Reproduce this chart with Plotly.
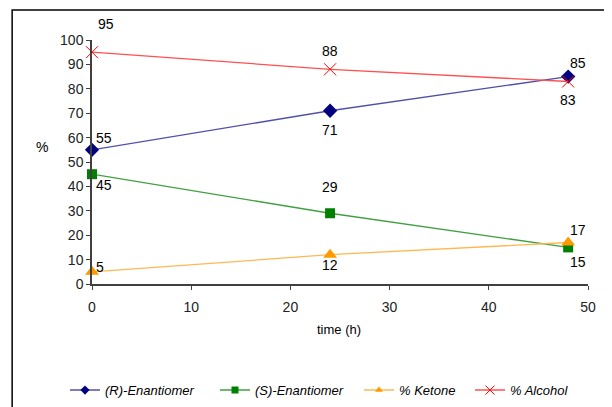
import plotly.graph_objects as go

time_h = [0, 24, 48]
r_enant = [55, 71, 85]
s_enant = [45, 29, 15]
ketone = [5, 12, 17]
alcohol = [95, 88, 83]

series = [
    ("<i>(R)-Enantiomer</i>", r_enant, "#000080", "#5050A8", "diamond", 11, 0),
    ("<i>(S)-Enantiomer</i>", s_enant, "#008000", "#40A040", "square", 10, 0),
    ("<i>% Ketone</i>", ketone, "#FF9900", "#FFB850", "triangle-up", 12, 0),
    ("<i>% Alcohol</i>", alcohol, "#FF0000", "#FF5050", "x-thin", 12, 1),
]

# label offsets (x px, y px) per point
offsets = {
    0: [(12, 12), (0, -19), (10, 14)],
    1: [(12, -11), (0, 26), (10, -15)],
    2: [(8, 5), (0, -10), (10, 13)],
    3: [(14, 28), (0, 18), (0, -19)],
}

L, W = 84, 496
legend_px = [72, 222, 366, 477]
legend_names = ["legend", "legend2", "legend3", "legend4"]

fig = go.Figure()
ann = []
for i, (name, vals, mc, lc, sym, size, lw) in enumerate(series):
    fig.add_trace(go.Scatter(
        x=time_h, y=vals, name=name, mode="lines+markers",
        line=dict(color=lc, width=1.3),
        marker=dict(symbol=sym, size=size, color=mc,
                    line=dict(color=mc, width=lw)),
        cliponaxis=False, showlegend=False,
    ))
    # legend entry
    fig.add_trace(go.Scatter(
        x=[None], y=[None], name=name, mode="lines+markers",
        line=dict(color=lc, width=1.5),
        marker=dict(symbol=sym, size=7 if sym != "x-thin" else 9, color=mc,
                    line=dict(color=mc, width=lw)),
        legend=legend_names[i], showlegend=True,
    ))
    for j, (xv, yv) in enumerate(zip(time_h, vals)):
        dx, dy = offsets[i][j]
        ann.append(dict(x=xv, y=yv, xref="x", yref="y", text=str(yv),
                        showarrow=False, xshift=dx, yshift=dy,
                        font=dict(size=14, color="#000000")))

ann.append(dict(x=-0.1008, y=0.561, xref="paper", yref="paper", text="%",
                xanchor="center", yanchor="middle",
                showarrow=False, font=dict(size=14, color="#000")))
ann.append(dict(x=0.498, y=-0.1885, xref="paper", yref="paper", text="time (h)",
                xanchor="center", yanchor="middle",
                showarrow=False, font=dict(size=13, color="#000")))

layout_legends = {}
for k, ln in enumerate(legend_names):
    layout_legends[ln] = dict(
        x=(legend_px[k] - 15 - L) / W, xanchor="left",
        y=-0.435, yanchor="middle", orientation="h",
        font=dict(size=13), itemwidth=30, bgcolor="rgba(0,0,0,0)",
        borderwidth=0,
    )

fig.update_layout(
    width=612, height=407,
    margin=dict(l=L, r=32, t=32, b=131, autoexpand=False),
    paper_bgcolor="white", plot_bgcolor="white",
    font=dict(family="Liberation Sans, Arial, sans-serif", size=13, color="#000"),
    annotations=ann,
    showlegend=True,
    shapes=[dict(type="path", xref="paper", yref="paper",
                 path="M -0.161,-0.6 L -0.161,1.123 L 1.2,1.123",
                 line=dict(color="#000", width=1.5))],
    **layout_legends,
)
fig.update_xaxes(range=[0, 50], dtick=10, showgrid=False, zeroline=False,
                 showline=True, linecolor="#404040", linewidth=1.5,
                 ticks="outside", ticklen=4, tickcolor="#404040",
                 ticklabelstandoff=5,
                 tickfont=dict(size=14, color="#222"))
fig.update_yaxes(range=[0, 100], dtick=10, showgrid=False, zeroline=False,
                 showline=True, linecolor="#404040", linewidth=1.5,
                 ticks="outside", ticklen=4, tickcolor="#404040",
                 ticklabelstandoff=0,
                 tickfont=dict(size=14, color="#222"))

fig.write_html("out.html")
